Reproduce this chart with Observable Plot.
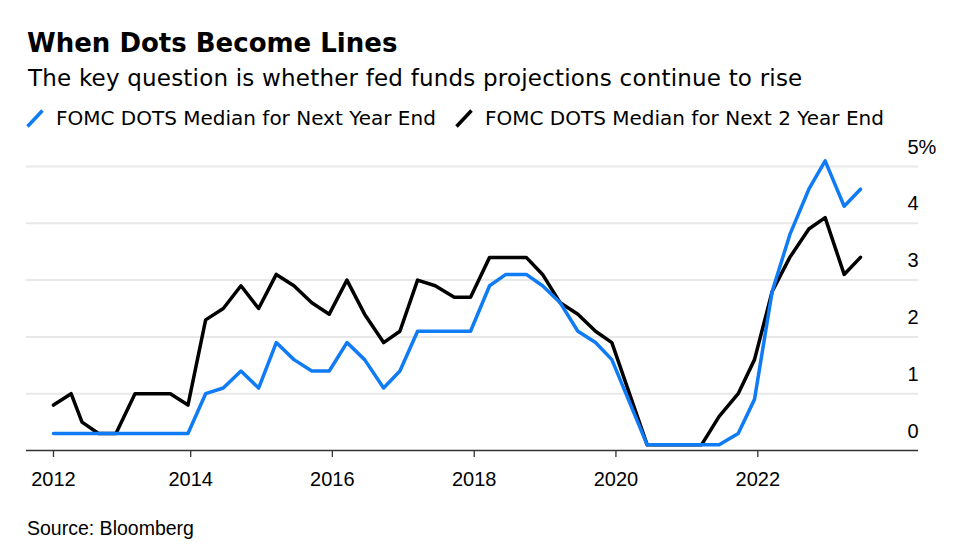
<!DOCTYPE html>
<html><head><meta charset="utf-8">
<script src="https://cdn.jsdelivr.net/npm/d3@7"></script>
<script src="https://cdn.jsdelivr.net/npm/@observablehq/plot@0.6"></script>
<style>
body{margin:0;background:#fff;width:962px;height:556px;position:relative;overflow:hidden}
.t{position:absolute;white-space:nowrap;color:#000}
#title{left:27px;top:30.3px;font:bold 26px/26px "DejaVu Sans";}
#sub{left:28px;top:66.5px;font:23px/23px "DejaVu Sans";letter-spacing:0.2px}
.leg{top:108.4px;font:20px/20px "DejaVu Sans";}
.icon{position:absolute;top:109px}
#source{left:27px;top:519.2px;font:19.5px/19.5px "Liberation Sans",Arial,sans-serif;}
#chart{position:absolute;left:0;top:130px}
</style></head>
<body>
<div id="title" class="t">When Dots Become Lines</div>
<div id="sub" class="t">The key question is whether fed funds projections continue to rise</div>
<svg class="icon" style="left:26px" width="18" height="19"><line x1="1.5" y1="17.5" x2="16.5" y2="1.5" stroke="#0f7bf5" stroke-width="3.5"/></svg>
<div class="t leg" style="left:56px">FOMC DOTS Median for Next Year End</div>
<svg class="icon" style="left:455px" width="18" height="19"><line x1="1.5" y1="17.5" x2="16.5" y2="1.5" stroke="#000" stroke-width="3.5"/></svg>
<div class="t leg" style="left:485px">FOMC DOTS Median for Next 2 Year End</div>
<div id="chart"></div>
<div id="source" class="t">Source: Bloomberg</div>
<script>
// FOMC Summary of Economic Projections meeting dates
const dates = [
  "2012-01-25","2012-04-25","2012-06-20","2012-09-13","2012-12-12",
  "2013-03-20","2013-06-19","2013-09-18","2013-12-18",
  "2014-03-19","2014-06-18","2014-09-17","2014-12-17",
  "2015-03-18","2015-06-17","2015-09-17","2015-12-16",
  "2016-03-16","2016-06-15","2016-09-21","2016-12-14",
  "2017-03-15","2017-06-14","2017-09-20","2017-12-13",
  "2018-03-21","2018-06-13","2018-09-26","2018-12-19",
  "2019-03-20","2019-06-19","2019-09-18","2019-12-11",
  "2020-06-10","2020-09-16","2020-12-16",
  "2021-03-17","2021-06-16","2021-09-22","2021-12-15",
  "2022-03-16","2022-06-15","2022-09-21","2022-12-14",
  "2023-03-22","2023-06-14"
];
// Median for next year end (%)
const nextYear = [
  0.3,0.3,0.3,0.3,0.3,
  0.3,0.3,0.3,0.3,
  1.0,1.1,1.4,1.1,
  1.9,1.6,1.4,1.4,
  1.9,1.6,1.1,1.4,
  2.1,2.1,2.1,2.1,
  2.9,3.1,3.1,2.9,
  2.6,2.1,1.9,1.6,
  0.1,0.1,0.1,
  0.1,0.1,0.3,0.9,
  2.8,3.8,4.6,5.1,
  4.3,4.6
];
// Median for next 2 year end (%)
const next2Year = [
  0.8,1.0,0.5,0.3,0.3,
  1.0,1.0,1.0,0.8,
  2.3,2.5,2.9,2.5,
  3.1,2.9,2.6,2.4,
  3.0,2.4,1.9,2.1,
  3.0,2.9,2.7,2.7,
  3.4,3.4,3.4,3.1,
  2.6,2.4,2.1,1.9,
  0.1,0.1,0.1,
  0.1,0.6,1.0,1.6,
  2.8,3.4,3.9,4.1,
  3.1,3.4
];
const yTicks = [0,1,2,3,4,5];
const yTickLabels = ["0","1","2","3","4","5%"];
const xTickDates = ["2012-01-25","2014-01-01","2016-01-01","2018-01-01","2020-01-01","2022-01-01"];
const xTickLabels = ["2012","2014","2016","2018","2020","2022"];
const xDomain = ["2011-09-08","2024-04-08"];

const blue = "#0f7bf5";
const rows = dates.map((d,i)=>({date:new Date(d), a:nextYear[i], b:next2Year[i]}));
const xLabelMap = new Map(xTickDates.map((d,i)=>[+new Date(d), xTickLabels[i]]));
const yLabelMap = new Map(yTicks.map((d,i)=>[d, yTickLabels[i]]));

const chart = Plot.plot({
  width:962, height:380,
  marginLeft:26, marginRight:44, marginTop:36, marginBottom:60,
  style:{fontFamily:"'Liberation Sans', Arial, sans-serif", fontSize:"20px", color:"#000", background:"transparent", overflow:"visible"},
  x:{type:"utc", domain:xDomain.map(d=>new Date(d))},
  y:{domain:[0,5]},
  marks:[
    Plot.ruleY(yTicks.filter(d=>d>0), {stroke:"#e8e8e8", strokeWidth:2}),
    Plot.ruleY([0], {stroke:"#333", strokeWidth:1.5}),
    Plot.axisX({ticks:xTickDates.map(d=>new Date(d)), tickFormat:d=>xLabelMap.get(+d), tickSize:7, tickPadding:14.5, stroke:"#333", strokeWidth:1.3, fill:"#000", label:null}),
    Plot.axisY({anchor:"right", ticks:yTicks, tickSize:0, tickPadding:0, textAnchor:"start", dx:-11, dy:-19.4, tickFormat:d=>yLabelMap.get(d), fill:"#000", label:null}),
    Plot.line(rows, {x:"date", y:"b", stroke:"#000", strokeWidth:3.5}),
    Plot.line(rows, {x:"date", y:"a", stroke:blue, strokeWidth:3.5})
  ]
});
document.getElementById("chart").appendChild(chart);
</script>
</body></html>
